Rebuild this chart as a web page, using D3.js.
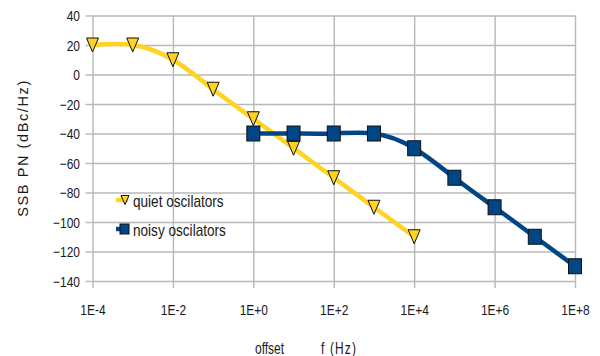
<!DOCTYPE html>
<html>
<head>
<meta charset="utf-8">
<script src="https://cdn.jsdelivr.net/npm/d3@7"></script>
<style>
  html, body { margin: 0; padding: 0; background: #fff; }
  svg { display: block; }
  text { fill: #1a1a1a; }
</style>
</head>
<body>
<svg id="chart" width="600" height="356"></svg>
<script>
// Offset frequencies (Hz) and single-sideband phase noise (dBc/Hz)
const quietFreq  = [1e-4, 1e-3, 1e-2, 1e-1, 1e0, 1e1, 1e2, 1e3, 1e4];
const quietPN    = [20, 20, 10, -10, -30, -50, -70, -90, -110];
const noisyFreq  = [1e0, 1e1, 1e2, 1e3, 1e4, 1e5, 1e6, 1e7, 1e8];
const noisyPN    = [-40, -40, -40, -40, -50, -70, -90, -110, -130];
const seriesNames = ["quiet oscilators", "noisy oscilators"];
const xTicks = [1e-4, 1e-2, 1e0, 1e2, 1e4, 1e6, 1e8];
const xTickLabels = ["1E-4", "1E-2", "1E+0", "1E+2", "1E+4", "1E+6", "1E+8"];
const yTicks = [40, 20, 0, -20, -40, -60, -80, -100, -120, -140];

const svg = d3.select("#chart");
const plot = { left: 92.5, right: 575, top: 15.5, bottom: 281 };

const x = d3.scaleLog().domain([1e-4, 1e8]).range([plot.left, plot.right]);
const y = d3.scaleLinear().domain([-140, 40]).range([plot.bottom, plot.top]);

const gridColor = "#b8b8b8";
const font = "'Liberation Sans', Arial, sans-serif";
const sx = 0.8; // horizontal squeeze for the narrow label face

// horizontal grid + y axis ticks
const yAxis = d3.axisLeft(y).tickValues(yTicks).tickSize(7).tickPadding(5).tickFormat(d3.format("d"));
const gy = svg.append("g").attr("transform", `translate(${plot.left},0)`).call(yAxis);
gy.select(".domain").remove();
gy.selectAll(".tick line").attr("stroke", gridColor).attr("stroke-width", 1.4)
  .clone().attr("x1", 0).attr("x2", plot.right - plot.left);
gy.selectAll(".tick text").attr("font-family", font).attr("font-size", 15)
  .attr("transform", `scale(${sx},1)`).attr("x", -12.5 / sx).attr("dy", "0.36em");

// vertical grid + x axis ticks
const xAxis = d3.axisBottom(x).tickValues(xTicks).tickSize(7).tickPadding(16)
  .tickFormat((d, i) => xTickLabels[i]);
const gx = svg.append("g").attr("transform", `translate(0,${plot.bottom})`).call(xAxis);
gx.select(".domain").remove();
gx.selectAll(".tick line").attr("stroke", gridColor).attr("stroke-width", 1.4)
  .clone().attr("y1", 0).attr("y2", plot.top - plot.bottom);
gx.selectAll(".tick text").attr("font-family", font).attr("font-size", 15)
  .attr("transform", `scale(${sx},1)`);

// Series lines (smooth splines)
const line = d3.line().curve(d3.curveNatural).x(d => x(d[0])).y(d => y(d[1]));
const quiet = quietFreq.map((f, i) => [f, quietPN[i]]);
const noisy = noisyFreq.map((f, i) => [f, noisyPN[i]]);
const yellow = "#ffd320", blue = "#004586";

svg.append("path").datum(quiet).attr("d", line)
  .attr("fill", "none").attr("stroke", yellow).attr("stroke-width", 4.5);
svg.append("path").datum(noisy).attr("d", line)
  .attr("fill", "none").attr("stroke", blue).attr("stroke-width", 4.5);

// markers
const tri = (cx, cy, w, h) => `M${cx - w / 2},${cy - h / 2}L${cx + w / 2},${cy - h / 2}L${cx},${cy + h / 2}Z`;
svg.append("g").selectAll("path").data(quiet).join("path")
  .attr("d", d => tri(x(d[0]), y(d[1]), 12, 14))
  .attr("fill", yellow).attr("stroke", "#111").attr("stroke-width", 1);
svg.append("g").selectAll("rect").data(noisy).join("rect")
  .attr("x", d => x(d[0]) - 6.5).attr("y", d => y(d[1]) - 7.5)
  .attr("width", 13).attr("height", 15)
  .attr("fill", blue).attr("stroke", "#111").attr("stroke-width", 1);

// legend
const legendText = (g, label) => g.append("text")
  .attr("transform", `translate(133,7) scale(0.85,1)`)
  .attr("font-family", font).attr("font-size", 16).text(label);
const legend = svg.append("g");
const lq = legend.append("g").attr("transform", "translate(0,200)");
lq.append("line").attr("x1", 116).attr("x2", 128).attr("stroke", yellow).attr("stroke-width", 4.5);
lq.append("path").attr("d", tri(125, 0, 8, 9)).attr("fill", yellow).attr("stroke", "#111").attr("stroke-width", 1);
legendText(lq, seriesNames[0]);
const ln = legend.append("g").attr("transform", "translate(0,229)");
ln.append("line").attr("x1", 116).attr("x2", 128).attr("stroke", blue).attr("stroke-width", 4.5);
ln.append("rect").attr("x", 120).attr("y", -5).attr("width", 9).attr("height", 10)
  .attr("fill", blue).attr("stroke", "#111").attr("stroke-width", 1);
legendText(ln, seriesNames[1]);

// axis titles
svg.append("text").attr("transform", "translate(27.5,148) rotate(-90)")
  .attr("text-anchor", "middle").attr("font-family", font).attr("font-size", 14.5)
  .attr("letter-spacing", 1.6).text("SSB PN (dBc/Hz)");
const xt = svg.append("text").attr("transform", "translate(255,354) scale(0.75,1)")
  .attr("font-family", font).attr("font-size", 16);
xt.append("tspan").attr("x", 0).text("offset");
xt.append("tspan").attr("x", (321 - 255) / 0.75).attr("letter-spacing", 1.5).text("f (Hz)");
</script>
</body>
</html>
